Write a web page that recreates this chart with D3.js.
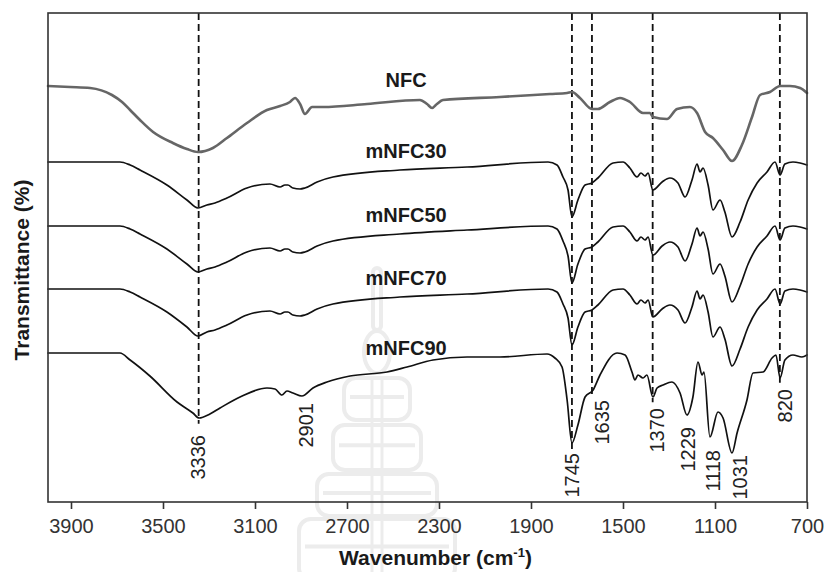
<!DOCTYPE html>
<html>
<head>
<meta charset="utf-8">
<script src="https://cdn.jsdelivr.net/npm/d3@7/dist/d3.min.js"></script>
<style>
  html, body { margin:0; padding:0; background:#fff; }
  svg { display:block; font-family:"Liberation Sans", Arial, sans-serif; }
  .frame { fill:none; stroke:#333; stroke-width:1.6; }
  .spec { fill:none; stroke-linejoin:round; stroke-linecap:round; }
  .spec-nfc { stroke:#666; stroke-width:2.6; }
  .spec-m { stroke:#111; stroke-width:1.7; }
  .peak-line { stroke:#111; stroke-width:1.8; stroke-dasharray:7,4; }
  .peak-text { font-size:20px; fill:#222; }
  .series-text { font-size:20px; font-weight:bold; fill:#1a1a1a; }
  .axis-title { font-size:21px; font-weight:bold; fill:#1a1a1a; }
  .wm { fill:none; stroke:#ececec; stroke-width:4; }
</style>
</head>
<body>
<svg class="ftir" width="826" height="572"></svg>
<script>
// x: wavenumber (cm-1), y: transmittance (arbitrary, curves offset)
var seriesNames = ['NFC', 'mNFC30', 'mNFC50', 'mNFC70', 'mNFC90'];

var nfcWn = [4000, 3904, 3817, 3722, 3678, 3643, 3600, 3543, 3457, 3396, 3348, 3283, 3222, 3135, 3048, 2991, 2948, 2926, 2904, 2883, 2852, 2804, 2613, 2383, 2352, 2330, 2309, 2283, 2035, 1817, 1743, 1722, 1687, 1635, 1609, 1557, 1513, 1470, 1413, 1383, 1370, 1309, 1265, 1209, 1178, 1143, 1109, 1065, 1026, 983, 939, 904, 861, 817, 774, 730, 700];
var nfcT = [41.6, 41.5, 41.4, 40.7, 40.0, 39.2, 38.2, 37.0, 35.9, 35.3, 35.0, 35.4, 36.4, 37.9, 39.2, 39.6, 40.0, 40.4, 39.8, 38.8, 39.5, 39.5, 39.8, 40.2, 39.8, 39.4, 39.8, 40.2, 40.5, 40.8, 40.9, 41.0, 40.4, 39.3, 39.3, 40.0, 40.4, 40.0, 38.9, 38.9, 38.5, 38.3, 39.3, 39.5, 38.9, 37.0, 36.4, 35.2, 34.1, 35.7, 38.5, 40.7, 41.0, 41.6, 41.6, 41.4, 40.9];

// mNFC30 / 50 / 70 are read at the same wavenumbers
var mWn = [4000, 3687, 3643, 3600, 3483, 3396, 3348, 3309, 3274, 3222, 3135, 3035, 2991, 2970, 2957, 2935, 2904, 2883, 2830, 2761, 2470, 2178, 1826, 1787, 1761, 1739, 1722, 1696, 1665, 1635, 1609, 1543, 1500, 1470, 1439, 1422, 1404, 1391, 1370, 1330, 1296, 1261, 1230, 1200, 1178, 1165, 1152, 1130, 1109, 1078, 1057, 1026, 991, 956, 917, 874, 839, 817, 796, 761, 730, 700];
var m30T = [34.0, 34.0, 33.7, 33.2, 31.7, 30.2, 29.4, 29.7, 29.9, 30.4, 31.4, 31.8, 31.5, 31.7, 31.7, 31.4, 31.3, 31.4, 32.0, 32.5, 33.2, 33.5, 34.0, 33.7, 32.5, 31.2, 28.5, 30.2, 31.7, 31.9, 32.4, 33.9, 34.0, 33.4, 32.5, 32.9, 32.6, 32.9, 31.2, 32.0, 32.4, 31.9, 30.5, 32.2, 33.8, 33.0, 33.4, 31.7, 29.2, 30.2, 29.0, 26.5, 28.0, 30.2, 31.9, 33.0, 34.0, 32.7, 33.8, 34.0, 33.9, 33.7];
var m50T = [27.6, 27.6, 27.3, 26.8, 25.3, 23.8, 23.0, 23.3, 23.5, 24.0, 25.0, 25.4, 25.1, 25.3, 25.3, 25.0, 24.9, 25.0, 25.6, 26.1, 26.8, 27.2, 27.6, 27.3, 26.1, 24.6, 21.9, 23.8, 25.3, 25.5, 26.0, 27.5, 27.6, 27.0, 26.1, 26.5, 26.2, 26.5, 24.7, 25.6, 26.0, 25.5, 24.1, 25.8, 27.4, 26.6, 27.0, 25.3, 22.8, 23.8, 22.6, 20.0, 21.6, 23.8, 25.5, 26.6, 27.6, 26.2, 27.4, 27.6, 27.5, 27.3];
var m70T = [21.3, 21.3, 21.0, 20.5, 19.0, 17.5, 16.6, 17.0, 17.2, 17.7, 18.7, 19.1, 18.8, 19.0, 19.0, 18.7, 18.6, 18.7, 19.3, 19.8, 20.5, 20.8, 21.3, 21.0, 19.8, 18.4, 15.7, 17.5, 19.0, 19.2, 19.7, 21.2, 21.3, 20.7, 19.8, 20.2, 19.9, 20.2, 18.5, 19.3, 19.7, 19.2, 17.9, 19.5, 21.1, 20.3, 20.7, 19.0, 16.5, 17.5, 16.3, 13.6, 15.3, 17.5, 19.2, 20.3, 21.3, 19.8, 21.1, 21.3, 21.2, 21.0];

var m90Wn = [4000, 3687, 3643, 3557, 3439, 3370, 3343, 3296, 3252, 3165, 3048, 3013, 2983, 2961, 2935, 2896, 2848, 2787, 2687, 2526, 2439, 2326, 2178, 2035, 1830, 1796, 1765, 1743, 1722, 1696, 1665, 1630, 1600, 1526, 1491, 1461, 1448, 1435, 1413, 1396, 1370, 1352, 1326, 1287, 1252, 1222, 1196, 1174, 1156, 1148, 1122, 1087, 1065, 1026, 1004, 961, 935, 891, 852, 835, 817, 796, 761, 722, 700];
var m90T = [14.9, 14.9, 14.2, 12.6, 10.0, 8.9, 8.4, 8.8, 9.4, 10.5, 11.4, 11.3, 10.7, 11.1, 10.9, 10.6, 11.4, 12.0, 12.6, 13.0, 13.5, 14.2, 14.5, 14.5, 14.8, 14.4, 13.5, 10.2, 5.9, 7.7, 10.5, 11.2, 12.7, 14.9, 14.7, 13.0, 12.2, 12.7, 12.4, 12.7, 10.5, 11.4, 11.7, 12.0, 10.9, 8.7, 10.5, 14.0, 12.7, 13.0, 6.5, 9.0, 8.4, 4.9, 6.9, 10.2, 12.9, 13.0, 14.4, 14.7, 12.4, 14.2, 14.7, 14.5, 14.7];

// band assignments
var bandLabels = ['3336', '2901', '1745', '1635', '1370', '1229', '1118', '1031', '820'];
var bandLabelWn = [3348, 2878, 1722, 1593, 1352, 1217, 1109, 991, 796];
var dashWn = [3345, 1722, 1635, 1371, 818];

var xTicks = [3900, 3500, 3100, 2700, 2300, 1900, 1500, 1100, 700];

(function(){
	var plot = { left:48, top:13, right:807, bottom:502 };
	// top end (px) of each rotated band label
	var bandLabelTop = [435, 403, 453, 400, 408, 427, 450, 455, 389];

	var svg = d3.select('.ftir');
	var x = d3.scaleLinear().domain([4000, 700]).range([plot.left, plot.right]);
	var y = d3.scaleLinear().domain([0, 49]).range([plot.bottom, 12]);

	var series = [
		{ name:seriesNames[0], wn:nfcWn, t:nfcT, cls:'spec spec-nfc' },
		{ name:seriesNames[1], wn:mWn, t:m30T, cls:'spec spec-m' },
		{ name:seriesNames[2], wn:mWn, t:m50T, cls:'spec spec-m' },
		{ name:seriesNames[3], wn:mWn, t:m70T, cls:'spec spec-m' },
		{ name:seriesNames[4], wn:m90Wn, t:m90T, cls:'spec spec-m' }
	];

	function valueAt(wn, t, w){
		for(var i = 0; i < wn.length - 1; i++){
			if(wn[i] >= w && wn[i+1] <= w){
				var f = (wn[i] - w) / (wn[i] - wn[i+1]);
				return t[i] + f * (t[i+1] - t[i]);
			}
		}
		return t[t.length - 1];
	}

	function addLine(g, x1, y1, x2, y2, css){
		return g.append('line')
			.attr('x1', x1).attr('y1', y1)
			.attr('x2', x2).attr('y2', y2)
			.attr('class', css);
	}

	function drawWatermark(g){
		var cx = 377;
		g.append('rect').attr('class', 'wm')
			.attr('x', cx - 4).attr('y', 268).attr('width', 8).attr('height', 62).attr('rx', 4);
		g.append('ellipse').attr('class', 'wm')
			.attr('cx', cx).attr('cy', 352).attr('rx', 13).attr('ry', 21);
		var tiers = [[378, 420, 33], [425, 470, 44], [474, 516, 60], [519, 580, 78]];
		tiers.forEach(function(t){
			g.append('rect').attr('class', 'wm')
				.attr('x', cx - t[2]).attr('y', t[0])
				.attr('width', 2 * t[2]).attr('height', t[1] - t[0]).attr('rx', 12);
			addLine(g, cx - t[2] + 6, t[0] + (t[1] - t[0]) * 0.45, cx + t[2] - 6, t[0] + (t[1] - t[0]) * 0.45, 'wm');
		});
		addLine(g, cx - 5, 378, cx - 5, 572, 'wm').style('stroke-width', 3);
		addLine(g, cx + 5, 378, cx + 5, 572, 'wm').style('stroke-width', 3);
	}

	drawWatermark(svg.append('g').attr('class', 'watermark'));

	// dashed band markers, from the top of the frame down to mNFC90
	var last = series[4];
	var gDash = svg.append('g');
	dashWn.forEach(function(w){
		var yEnd = y(valueAt(last.wn, last.t, w)) + 6;
		addLine(gDash, x(w), plot.top, x(w), yEnd, 'peak-line');
	});

	// spectra
	var line = d3.line()
		.x(function(d){ return x(d[0]); })
		.y(function(d){ return y(d[1]); })
		.curve(d3.curveMonotoneX);

	var gSpec = svg.append('g');
	series.forEach(function(s){
		var pts = s.wn.map(function(w, i){ return [w, s.t[i]]; });
		gSpec.append('path').attr('class', s.cls).attr('d', line(pts));
	});

	// series names sit just above their curve at ~2440 cm-1
	var nameWn = 2443;
	series.forEach(function(s, i){
		var yc = y(valueAt(s.wn, s.t, nameWn));
		svg.append('text').attr('class', 'series-text')
			.attr('x', x(nameWn)).attr('y', yc - (i === 0 ? 14 : 12))
			.attr('text-anchor', 'middle')
			.text(s.name);
	});

	// band labels
	bandLabels.forEach(function(l, i){
		svg.append('text').attr('class', 'peak-text')
			.attr('transform', 'translate(' + x(bandLabelWn[i]) + ',' + bandLabelTop[i] + ') rotate(-90)')
			.attr('text-anchor', 'end')
			.attr('dy', '0.36em')
			.text(l);
	});

	// frame + axis
	svg.append('rect').attr('class', 'frame')
		.attr('x', plot.left).attr('y', plot.top)
		.attr('width', plot.right - plot.left).attr('height', plot.bottom - plot.top);

	var gx = svg.append('g')
		.attr('transform', 'translate(0,' + plot.bottom + ')')
		.call(d3.axisBottom(x).tickValues(xTicks).tickSize(7).tickPadding(10).tickFormat(d3.format('d')));
	gx.attr('font-family', null).attr('font-size', 20);
	gx.select('.domain').remove();
	gx.selectAll('.tick line').attr('stroke', '#333').attr('stroke-width', 1.6);
	gx.selectAll('.tick text').attr('fill', '#333');

	var xt = svg.append('text').attr('class', 'axis-title')
		.attr('x', (plot.left + plot.right) / 2 + 8).attr('y', 565)
		.attr('text-anchor', 'middle');
	xt.append('tspan').text('Wavenumber (cm');
	xt.append('tspan').attr('font-size', 13).attr('dy', -8).text('-1');
	xt.append('tspan').attr('dy', 8).text(')');

	svg.append('text').attr('class', 'axis-title')
		.attr('transform', 'translate(29,270) rotate(-90)')
		.attr('text-anchor', 'middle')
		.text('Transmittance (%)');
})();
</script>
</body>
</html>
